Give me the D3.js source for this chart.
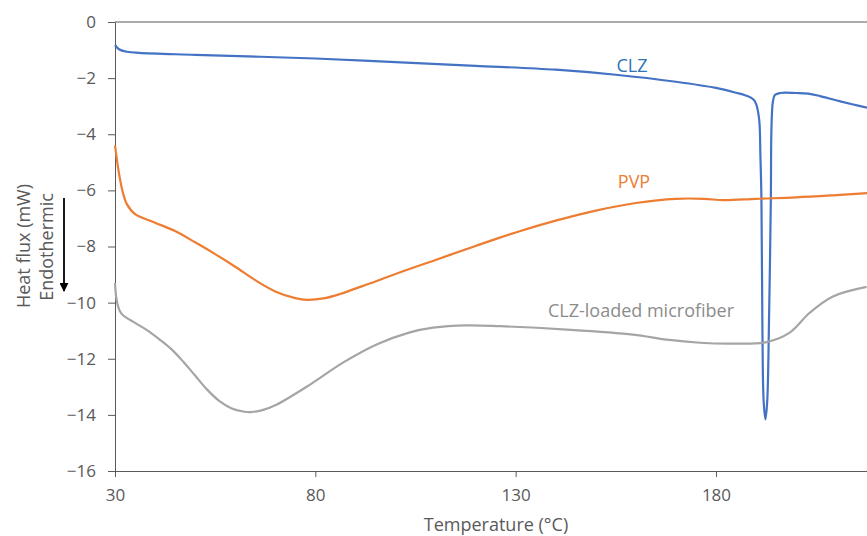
<!DOCTYPE html>
<html>
<head>
  <meta charset="utf-8">
  <title>DSC thermograms</title>
  <script src="https://d3js.org/d3.v7.min.js"></script>
  <style>
    body { margin: 0; background: #fff; }
    text { font-family: "Open Sans", sans-serif; }
    .tick text { font-size: 17px; fill: #595959; }
    .tick line, .domain { stroke: #595959; }
  </style>
</head>
<body>
  <svg width="867" height="536"></svg>
  <script>
    // Heat flux traces: [temperature, mW]
    const clz = [
      [30, -0.82], [31, -0.97], [33, -1.06], [36, -1.1], [50, -1.17], [80, -1.3],
      [100, -1.43], [120, -1.56], [140, -1.7], [155, -1.88], [170, -2.13], [180, -2.35],
      [185, -2.52], [188, -2.65], [189.5, -2.78], [190.1, -2.95], [190.8, -3.5],
      [191.1, -4.8], [191.35, -6.3], [191.6, -11.0], [191.9, -13.5], [192.35, -14.16],
      [192.8, -13.5], [193.2, -11.0], [193.7, -6.3], [193.85, -3.8], [194.2, -2.85],
      [194.7, -2.6], [196, -2.53], [200, -2.53], [203, -2.55], [206, -2.64],
      [210, -2.79], [214, -2.93], [217.7, -3.05]
    ];
    const pvp = [
      [30, -4.4], [31, -5.4], [32, -6.1], [33, -6.5], [35, -6.85], [40, -7.15],
      [45, -7.45], [50, -7.85], [55, -8.27], [60, -8.72], [65, -9.2], [70, -9.6],
      [75, -9.84], [78, -9.9], [82, -9.85], [86, -9.7], [90, -9.5], [95, -9.25],
      [100, -8.98], [110, -8.48], [120, -7.98], [130, -7.5], [140, -7.08], [150, -6.72],
      [160, -6.45], [170, -6.3], [177, -6.3], [182, -6.35], [190, -6.3], [200, -6.25],
      [210, -6.17], [217.7, -6.1]
    ];
    const fiber = [
      [30, -9.3], [30.4, -9.9], [31.2, -10.3], [32, -10.45], [35, -10.72], [38, -10.98],
      [41, -11.3], [44, -11.65], [47, -12.1], [50, -12.6], [53, -13.1], [56, -13.5],
      [59, -13.76], [62, -13.88], [64, -13.9], [67, -13.82], [70.4, -13.63],
      [78.7, -12.92], [86.9, -12.14], [95.3, -11.49], [103.6, -11.06],
      [109.4, -10.89], [117.8, -10.81], [126.1, -10.84], [142.7, -10.96], [159.3, -11.14],
      [167.7, -11.32], [176, -11.43], [184.2, -11.46], [192.6, -11.41], [198.4, -11.07],
      [203.4, -10.36], [209.2, -9.78], [217.6, -9.44]
    ];
    const xTicks = [30, 80, 130, 180];
    const yTicks = [0, -2, -4, -6, -8, -10, -12, -14, -16];

    const series = [
      { name: "CLZ", data: clz, color: "#4472C4", text: "#2E75B6", lx: 632, ly: 72 },
      { name: "PVP", data: pvp, color: "#ED7D31", text: "#ED7D31", lx: 634, ly: 188 },
      { name: "CLZ-loaded microfiber", data: fiber, color: "#A5A5A5", text: "#8c8c8c", lx: 641, ly: 317 }
    ];

    const svg = d3.select("svg");
    const mLeft = 115, mRight = 867, mTop = 22, mBottom = 471;

    const x = d3.scaleLinear().domain([30, 217.7]).range([mLeft, mRight]);
    const y = d3.scaleLinear().domain([-16, 0]).range([mBottom, mTop]);

    // top border line at 0
    svg.append("line")
      .attr("x1", mLeft).attr("x2", mRight)
      .attr("y1", mTop).attr("y2", mTop)
      .attr("stroke", "#595959");

    svg.append("g")
      .attr("transform", `translate(0,${mBottom})`)
      .call(d3.axisBottom(x).tickValues(xTicks).tickSize(6).tickPadding(12).tickSizeOuter(0));

    svg.append("g")
      .attr("transform", `translate(${mLeft},0)`)
      .call(d3.axisLeft(y).tickValues(yTicks).tickSize(7).tickPadding(12).tickSizeOuter(0));

    const line = d3.line()
      .x(d => x(d[0]))
      .y(d => y(d[1]))
      .curve(d3.curveCatmullRom.alpha(0.5));

    svg.selectAll("path.trace")
      .data(series)
      .enter()
      .append("path")
      .attr("class", "trace")
      .attr("fill", "none")
      .attr("stroke", d => d.color)
      .attr("stroke-width", 2.2)
      .attr("d", d => line(d.data));

    svg.selectAll("text.label")
      .data(series)
      .enter()
      .append("text")
      .attr("class", "label")
      .attr("x", d => d.lx)
      .attr("y", d => d.ly)
      .attr("text-anchor", "middle")
      .attr("font-size", 18)
      .attr("fill", d => d.text)
      .text(d => d.name);

    // axis titles
    svg.append("text")
      .attr("x", 496).attr("y", 531)
      .attr("text-anchor", "middle")
      .attr("font-size", 18)
      .attr("fill", "#595959")
      .text("Temperature (°C)");

    svg.append("text")
      .attr("transform", "translate(30,246) rotate(-90)")
      .attr("text-anchor", "middle")
      .attr("font-size", 18)
      .attr("fill", "#595959")
      .text("Heat flux (mW)");

    svg.append("text")
      .attr("transform", "translate(53,247) rotate(-90)")
      .attr("text-anchor", "middle")
      .attr("font-size", 18)
      .attr("fill", "#595959")
      .text("Endothermic");

    // endothermic arrow
    svg.append("defs").append("marker")
      .attr("id", "arrow")
      .attr("viewBox", "0 0 10 10")
      .attr("refX", 9).attr("refY", 5)
      .attr("markerWidth", 5).attr("markerHeight", 5)
      .attr("orient", "auto")
      .append("path")
      .attr("d", "M0,0L10,5L0,10z")
      .attr("fill", "#000");

    svg.append("line")
      .attr("x1", 64).attr("x2", 64)
      .attr("y1", 198).attr("y2", 291)
      .attr("stroke", "#000")
      .attr("stroke-width", 1.8)
      .attr("marker-end", "url(#arrow)");
  </script>
</body>
</html>
